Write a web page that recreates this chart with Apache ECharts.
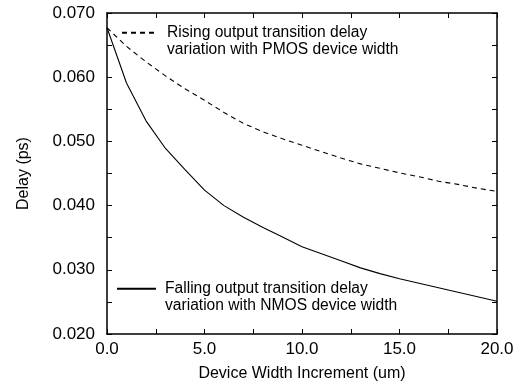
<!DOCTYPE html>
<html><head><meta charset="utf-8">
<script src="https://cdn.jsdelivr.net/npm/echarts@6/dist/echarts.min.js"></script>
<style>html,body{margin:0;padding:0;background:#fff}#c{width:520px;height:385px}</style>
</head><body><div id="c"></div>
<script>
const xs = [0,1,2,3,4,5,6,7,8,9,10,11,12,13,14,15,16,17,18,19,20];
const fallingDelay = [0.0677,0.0591,0.0532,0.0489,0.0456,0.0424,0.0400,0.0382,0.0366,0.0351,0.0336,0.0325,0.0314,0.0303,0.0294,0.0286,0.0279,0.0272,0.0265,0.0258,0.0251];
const risingDelay = [0.0677,0.0648,0.0624,0.0602,0.0582,0.0564,0.0545,0.0528,0.0515,0.0504,0.0494,0.0484,0.0474,0.0465,0.0458,0.0451,0.0445,0.0438,0.0433,0.0427,0.0422];
const risingName = "Rising output transition delay\nvariation with PMOS device width";
const fallingName = "Falling output transition delay\nvariation with NMOS device width";
const xTitle = "Device Width Increment (um)";
const yTitle = "Delay (ps)";

const FONT = "'Liberation Sans', Arial, Helvetica, sans-serif";
const chart = echarts.init(document.getElementById('c'), null, {renderer:'canvas'});
const axLine = {show:true, onZero:false, lineStyle:{color:'#000', width:1.5}};
const tick = {show:true, inside:true, length:5, lineStyle:{color:'#000', width:1}};
const isMult = (v, step) => Math.abs(v/step - Math.round(v/step)) < 1e-6;
const legendText = {fontFamily:FONT, fontSize:15.6, color:'#000', lineHeight:16.5,
  rich:{s:{width:4, fontFamily:FONT, fontSize:15.6, lineHeight:16.5}}};
const legendFmt = n => '\n' + n.split('\n').map(l => '{s|}' + l).join('\n');

chart.setOption({
  animation:false,
  backgroundColor:'#fff',
  grid:{left:107, right:23, top:13, bottom:51, containLabel:false, outerBoundsMode:'none'},
  legend:[
    {data:[risingName], left:121, top:8, padding:0, itemWidth:36, itemHeight:10,
     textStyle:legendText, itemStyle:{opacity:0}, formatter:legendFmt},
    {data:[fallingName], left:116, top:264, padding:0, itemWidth:39, itemHeight:10,
     textStyle:legendText, itemStyle:{opacity:0}, formatter:legendFmt}
  ],
  xAxis:[
    {type:'value', min:0, max:20, interval:2.5, position:'bottom',
     axisLine:axLine, axisTick:tick, splitLine:{show:false},
     axisLabel:{fontFamily:FONT, fontSize:17, color:'#000', margin:7, showMinLabel:true, showMaxLabel:true,
       formatter:v=>isMult(v,5)?v.toFixed(1):''},
     name:xTitle, nameLocation:'middle', nameGap:32,
     nameTextStyle:{fontFamily:FONT, fontSize:16, color:'#000'}},
    {type:'value', min:0, max:20, interval:2.5, position:'top',
     axisLine:axLine, axisTick:tick, splitLine:{show:false}, axisLabel:{show:false}}
  ],
  yAxis:[
    {type:'value', min:0.02, max:0.07, interval:0.005, position:'left',
     axisLine:axLine, axisTick:tick, splitLine:{show:false},
     axisLabel:{fontFamily:FONT, fontSize:17, color:'#000', margin:12, showMinLabel:true, showMaxLabel:true,
       formatter:v=>isMult(v,0.01)?v.toFixed(3):''},
     name:yTitle, nameLocation:'middle', nameGap:75, nameRotate:90,
     nameTextStyle:{fontFamily:FONT, fontSize:16, color:'#000'}},
    {type:'value', min:0.02, max:0.07, interval:0.005, position:'right',
     axisLine:axLine, axisTick:tick, splitLine:{show:false}, axisLabel:{show:false}}
  ],
  series:[
    {name:risingName, type:'line', xAxisIndex:0, yAxisIndex:0, showSymbol:false, symbol:'none', smooth:false,
     lineStyle:{color:'#000', width:1.1, type:[5,4]}, itemStyle:{color:'#000'},
     data:xs.map((x,i)=>[x, risingDelay[i]])},
    {name:fallingName, type:'line', xAxisIndex:0, yAxisIndex:0, showSymbol:false, symbol:'none', smooth:false,
     lineStyle:{color:'#000', width:1.1, type:'solid'}, itemStyle:{color:'#000'},
     data:xs.map((x,i)=>[x, fallingDelay[i]])}
  ]
});
</script></body></html>
